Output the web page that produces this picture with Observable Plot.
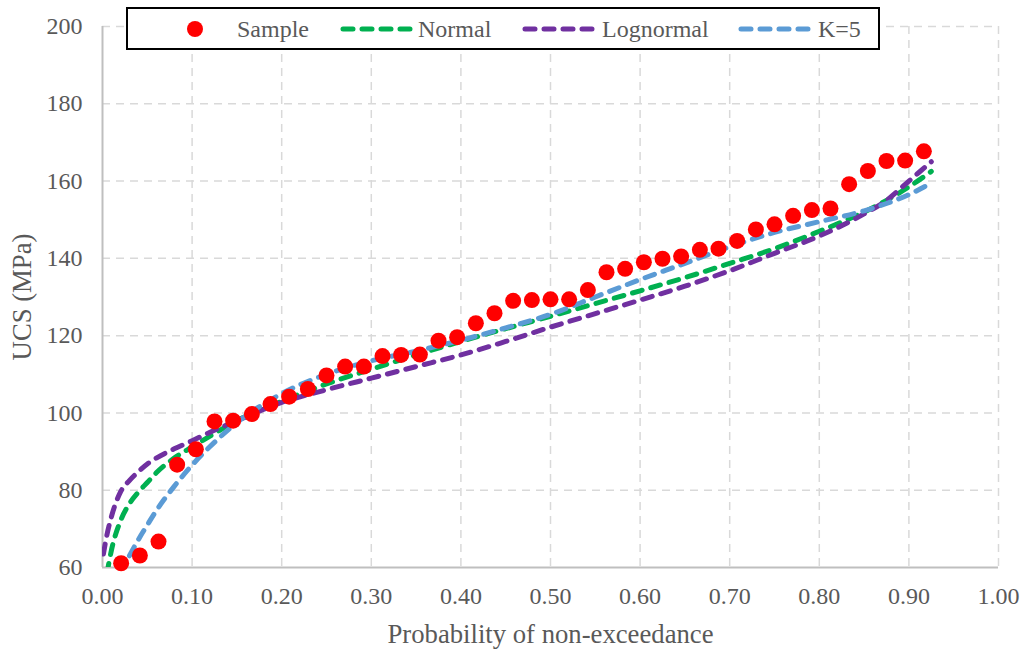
<!DOCTYPE html>
<html>
<head>
<meta charset="utf-8">
<script src="https://cdn.jsdelivr.net/npm/d3@7"></script>
<script src="https://cdn.jsdelivr.net/npm/@observablehq/plot@0.6"></script>
<style>
  html, body { margin: 0; padding: 0; background: #fff; font-family: "Liberation Serif", serif; }
  #wrap { position: relative; width: 1024px; height: 651px; font-family: "Liberation Serif", serif; color: #595959; }
  #wrap svg text { font-family: "Liberation Serif", serif; }
  .lg { position: absolute; font-family: "Liberation Serif", serif; font-size: 24px; line-height: 28px; height: 28px; white-space: nowrap; color: #595959; }
  #legendBox { position: absolute; left: 126px; top: 7px; width: 750px; height: 39px; border: 2px solid #000; background: #fff; }
  svg.sw { position: absolute; overflow: visible; }
</style>
</head>
<body>
<div id="wrap"></div>
<script>
// ---- data ----
const xTicks = [0, 0.1, 0.2, 0.3, 0.4, 0.5, 0.6, 0.7, 0.8, 0.9, 1.0];
const yTicks = [60, 80, 100, 120, 140, 160, 180, 200];

const sampleP = [0.0208, 0.0417, 0.0625, 0.0833, 0.1042, 0.125, 0.1458, 0.1667, 0.1875, 0.2083,
  0.2292, 0.25, 0.2708, 0.2917, 0.3125, 0.3333, 0.3542, 0.375, 0.3958, 0.4167,
  0.4375, 0.4583, 0.4792, 0.5, 0.5208, 0.5417, 0.5625, 0.5833, 0.6042, 0.625,
  0.6458, 0.6667, 0.6875, 0.7083, 0.7292, 0.75, 0.7708, 0.7917, 0.8125, 0.8333,
  0.8542, 0.875, 0.8958, 0.9167];
const sampleUCS = [61.1, 63.1, 66.7, 86.6, 90.6, 97.8, 98.0, 99.7, 102.3, 104.2,
  106.2, 109.7, 112.0, 112.0, 114.7, 115.0, 115.1, 118.7, 119.6, 123.2,
  125.8, 129.0, 129.2, 129.4, 129.4, 131.8, 136.4, 137.3, 139.0, 139.9,
  140.5, 142.2, 142.5, 144.5, 147.5, 148.8, 151.0, 152.5, 152.9, 159.2,
  162.6, 165.2, 165.3, 167.7];

const curveP = [0.001, 0.005, 0.01, 0.02, 0.03, 0.04, 0.05, 0.06, 0.08, 0.10,
  0.12, 0.15, 0.20, 0.25, 0.30, 0.35, 0.40, 0.45, 0.50, 0.55,
  0.60, 0.65, 0.70, 0.75, 0.80, 0.85, 0.875, 0.90, 0.925];
const normalUCS = [null, 58.5, 64.5, 72, 76.5, 79.5, 82, 84.5, 88.3, 91.2,
  94, 98, 103, 107.5, 111.3, 115, 118.5, 121.8, 125, 128.3,
  131.6, 135, 138.7, 142.5, 147, 152, 155, 158.5, 162.5];
const lognormalUCS = [63.5, 68.5, 73.2, 79.5, 82.5, 84.8, 86.8, 88.3, 90.7, 92.8,
  95, 98, 102.7, 106, 109, 112, 115, 118.5, 122.2, 125.7,
  129.2, 132.8, 136.8, 141.3, 145.8, 151.5, 155, 160, 165];
const k5UCS = [null, null, null, 58.7, 63, 67.2, 71, 74.7, 81, 86.5,
  91.3, 97.5, 105, 110, 113.5, 116, 118.8, 122, 125.5, 130,
  134.5, 138.7, 143, 146.7, 149.5, 152.3, 154.2, 156.5, 159.5];

const seriesNames = ["Sample", "Normal", "Lognormal", "K=5"];
const seriesColors = ["#FF0000", "#00B050", "#7030A0", "#5B9BD5"];
const FONT = "Liberation Serif, serif";

// ---- tables ----
const sample = sampleP.map((p, i) => ({p, v: sampleUCS[i]}));
const toCurve = arr => curveP.map((p, i) => ({p, v: arr[i]})).filter(d => d.v != null);
const normal = toCurve(normalUCS);
const lognormal = toCurve(lognormalUCS);
const k5 = toCurve(k5UCS);

const lineOpts = (color) => ({
  x: "p", y: "v", stroke: color, strokeWidth: 5, strokeDasharray: "10,9",
  strokeLinecap: "round", curve: "monotone-x", clip: true
});
const gridStyle = {stroke: "#d9d9d9", strokeOpacity: 1, strokeWidth: 1.5, strokeDasharray: "8,6"};

const chart = Plot.plot({
  width: 1024, height: 651,
  marginLeft: 102, marginRight: 26, marginTop: 26, marginBottom: 84,
  x: {domain: [0, 1]},
  y: {domain: [60, 200]},
  style: {fontFamily: FONT, fontSize: "24px", color: "#595959", background: "#fff"},
  marks: [
    Plot.gridX(xTicks.slice(1), gridStyle),
    Plot.gridY(yTicks.slice(1), gridStyle),
    Plot.ruleX([0], {stroke: "#bfbfbf", strokeWidth: 2}),
    Plot.ruleY([60], {stroke: "#bfbfbf", strokeWidth: 2}),
    Plot.axisX(xTicks, {tickSize: 0, tickPadding: 19, tickFormat: d => d.toFixed(2), label: null, fontSize: 24, fontFamily: FONT}),
    Plot.axisY(yTicks, {tickSize: 0, tickPadding: 20, label: null, fontSize: 24, fontFamily: FONT}),
    Plot.line(normal, lineOpts(seriesColors[1])),
    Plot.line(lognormal, lineOpts(seriesColors[2])),
    Plot.line(k5, lineOpts(seriesColors[3])),
    Plot.dot(sample, {x: "p", y: "v", r: 8, fill: seriesColors[0], stroke: "none"}),
    Plot.text(["Probability of non-exceedance"], {frameAnchor: "bottom", dy: 67, textAnchor: "middle", lineAnchor: "middle", fontSize: 26.7, fontFamily: FONT, fill: "#595959"}),
    Plot.text(["UCS (MPa)"], {frameAnchor: "left", dx: -80, rotate: -90, textAnchor: "middle", lineAnchor: "middle", fontSize: 26.7, fontFamily: FONT, fill: "#595959"})
  ]
});

const wrap = document.getElementById("wrap");
wrap.appendChild(chart);

// ---- legend (overlaid on top of plot, as in the reference) ----
const box = document.createElement("div");
box.id = "legendBox";
wrap.appendChild(box);

const ns = "http://www.w3.org/2000/svg";
function addText(txt, left) {
  const s = document.createElement("span");
  s.className = "lg";
  s.textContent = txt;
  s.style.left = left + "px";
  s.style.top = "15px";
  s.style.fontFamily = FONT;
  wrap.appendChild(s);
}
{
  const svg = document.createElementNS(ns, "svg");
  svg.setAttribute("class", "sw");
  svg.setAttribute("width", 20); svg.setAttribute("height", 20);
  svg.style.left = "185px"; svg.style.top = "19px";
  const c = document.createElementNS(ns, "circle");
  c.setAttribute("cx", 10); c.setAttribute("cy", 10); c.setAttribute("r", 8);
  c.setAttribute("fill", seriesColors[0]);
  svg.appendChild(c);
  wrap.appendChild(svg);
  addText(seriesNames[0], 237);
}
const dashItems = [[1, 341, 418], [2, 523, 602], [3, 739, 818]];
for (const [k, x0, tx] of dashItems) {
  const svg = document.createElementNS(ns, "svg");
  svg.setAttribute("class", "sw");
  svg.setAttribute("width", 76); svg.setAttribute("height", 10);
  svg.style.left = x0 + "px"; svg.style.top = "24px";
  const l = document.createElementNS(ns, "line");
  l.setAttribute("x1", 2); l.setAttribute("x2", 74);
  l.setAttribute("y1", 5); l.setAttribute("y2", 5);
  l.setAttribute("stroke", seriesColors[k]);
  l.setAttribute("stroke-width", 5);
  l.setAttribute("stroke-dasharray", "10,9");
  l.setAttribute("stroke-linecap", "round");
  svg.appendChild(l);
  wrap.appendChild(svg);
  addText(seriesNames[k], tx);
}
</script>
</body>
</html>
